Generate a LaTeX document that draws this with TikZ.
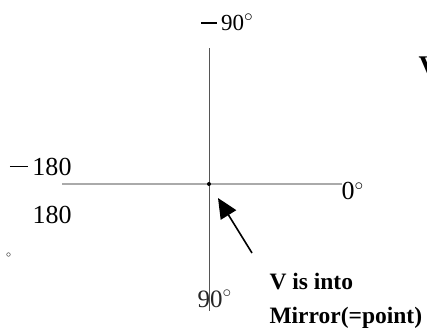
\documentclass[tikz,border=0pt]{standalone}
\usepackage{fontspec}
\setmainfont{Liberation Serif}
\usetikzlibrary{arrows.meta}
\definecolor{axisv}{HTML}{555555}
\definecolor{axish}{HTML}{AAAAAA}
\newcommand\longminus{\rule[0.3em]{0.7em}{0.06em}\hspace{0.17em}}
\newcommand\degsym{$^\circ$}
\tikzset{
  lbl/.style={inner sep=0pt, outer sep=0pt, text=black},
  boldlbl/.style={inner sep=0pt, outer sep=0pt, font=\fontsize{23.5}{27}\selectfont\bfseries},
}
\begin{document}
\begin{tikzpicture}[x=1pt,y=-1pt]
\useasboundingbox (0,0) rectangle (427,327);
\clip (0,0) rectangle (427,327);
% axes
\coordinate (vtop) at (209,48);
\coordinate (vbot) at (209,311);
\coordinate (hleft) at (62,184);
\coordinate (hright) at (342,184);
\draw[axisv, line width=0.9pt] (vtop) -- (vbot);
\draw[axish, line width=1.8pt] (hleft) -- (hright);
\node[circle, fill=black, inner sep=0pt, minimum size=4pt] (origin) at (209,184) {};
% labels
\node[lbl, anchor=base west, font=\fontsize{23}{27}\selectfont] (m90) at (201,30.5) {\longminus 90\degsym};
\node[lbl, anchor=base east, font=\fontsize{26}{30}\selectfont] (m180) at (71.5,175) {\longminus 180};
\node[lbl, anchor=base east, font=\fontsize{26}{30}\selectfont] (p180) at (71.5,223) {180};
\node[lbl, anchor=base west, font=\fontsize{26}{30}\selectfont] (zero) at (341.5,199.5) {0\degsym};
\node[lbl, anchor=base west, font=\fontsize{25}{30}\selectfont, text=black!85] (p90) at (197.5,307) {90\degsym};
\node[lbl, font=\fontsize{14}{16}\selectfont] (deg) at (8.5,255.5) {$\scriptstyle\circ$};
% annotation
\node[boldlbl, anchor=base west] (vinto) at (269.5,289) {V is into};
\node[boldlbl, anchor=base west] (mirror) at (269.5,323) {Mirror(=point)};
\node[lbl, anchor=base west, font=\fontsize{28.5}{32}\selectfont\bfseries] (vcut) at (418.5,75) {V};
\coordinate (atail) at (252,253);
\coordinate (atip) at (218,198);
\draw[line width=1.6pt, -{Triangle[length=20pt,width=18pt]}] (atail) -- (atip);
\end{tikzpicture}
\end{document}
